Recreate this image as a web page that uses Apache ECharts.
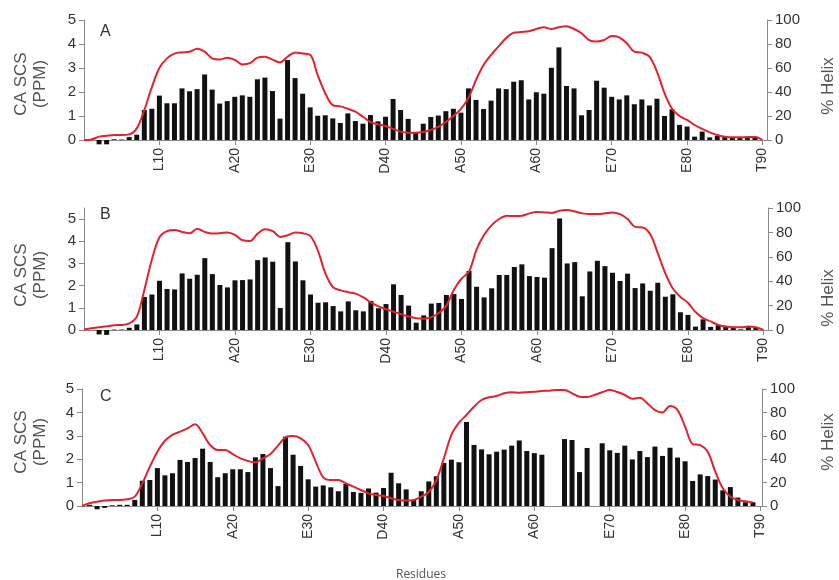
<!DOCTYPE html>
<html><head><meta charset="utf-8">
<script src="https://cdn.jsdelivr.net/npm/echarts@6/dist/echarts.min.js"></script>
<style>html,body{margin:0;padding:0;background:#fff}#c{width:839px;height:580px}</style>
</head><body><div id="c"></div>
<script>
// Residue numbers (categories) and tick labels
var residues = [1,2,3,4,5,6,7,8,9,10,11,12,13,14,15,16,17,18,19,20,21,22,23,24,25,26,27,28,29,30,31,32,33,34,35,36,37,38,39,40,41,42,43,44,45,46,47,48,49,50,51,52,53,54,55,56,57,58,59,60,61,62,63,64,65,66,67,68,69,70,71,72,73,74,75,76,77,78,79,80,81,82,83,84,85,86,87,88,89,90];
var helixResidues = [0].concat(residues);
var tickPositions = [10,20,30,40,50,60,70,80,90];
var tickLabels = ['L10','A20','E30','D40','A50','A60','E70','E80','T90'];

// CA secondary chemical shifts (ppm), residues 1..90
var scsA = [0,-0.18,-0.18,0.03,0.02,0.12,0.22,1.25,1.3,1.85,1.53,1.53,2.15,2.03,2.12,2.73,2.1,1.52,1.62,1.8,1.86,1.8,2.53,2.6,2.04,0.89,3.33,2.58,1.93,1.36,1.01,1.03,0.9,0.71,1.11,0.79,0.68,1.04,0.78,0.97,1.71,1.25,0.88,0.3,0.68,0.96,1.02,1.2,1.3,1.14,2.15,1.67,1.29,1.64,2.15,2.12,2.43,2.49,1.69,1.99,1.93,3.01,3.86,2.25,2.15,1.03,1.25,2.47,2.18,1.8,1.69,1.86,1.49,1.69,1.44,1.72,1.0,1.28,0.63,0.56,0.14,0.35,0.11,0.17,0.14,0.11,0.08,0.08,0.14,0];
var scsB = [0,-0.2,-0.22,0.02,0.02,0.1,0.25,1.49,1.6,2.22,1.85,1.83,2.55,2.31,2.49,3.24,2.52,2.03,1.92,2.24,2.25,2.28,3.15,3.27,3.08,0.99,3.96,3.09,2.24,1.6,1.23,1.25,1.08,0.84,1.29,0.89,0.84,1.31,0.98,1.17,2.06,1.58,1.1,0.33,0.66,1.19,1.22,1.58,1.62,1.4,2.66,1.95,1.47,1.88,2.48,2.48,2.84,2.96,2.43,2.39,2.36,3.69,5.03,3.0,3.06,1.52,2.64,3.12,2.88,2.58,2.21,2.54,1.89,2.1,1.77,2.13,1.5,1.61,0.8,0.68,0.15,0.48,0.14,0.22,0.15,0.12,0.03,0.13,0.13,0];
var scsC = [0.05,-0.14,-0.08,0.03,0.05,0.05,0.26,1.08,1.11,1.62,1.31,1.4,1.97,1.88,2.05,2.45,1.88,1.23,1.4,1.57,1.57,1.45,2.08,2.22,1.62,0.85,2.96,2.19,1.71,1.14,0.83,0.88,0.8,0.63,0.94,0.6,0.56,0.75,0.57,0.77,1.42,0.97,0.71,0.26,0.63,1.05,1.27,1.84,1.98,1.87,3.59,2.61,2.42,2.21,2.32,2.41,2.58,2.8,2.35,2.26,2.19,null,null,2.86,2.82,1.45,2.48,null,2.68,2.38,2.27,2.58,1.99,2.35,2.09,2.54,2.14,2.49,2.07,1.91,1.07,1.35,1.28,1.13,0.67,0.81,0.36,0.16,0.16,0];

// % helix, residues 0..90
var helixA = [0,0.5,2.8,3.6,4.2,4.2,4.7,9.7,25,44,60,68,72,73,73.6,76,73.6,68,67,68.6,66.7,63,64,68.6,69.4,67,64.7,69.4,73,72,71,54,39,29,28,26,23.6,19.4,15,13,11.7,9.2,7,6.1,6.1,6.7,8.3,11,15,20,26,35,50,62.5,71,78,85,89.4,90,90.6,92.5,94,92.5,94,94.7,92.5,89,83.3,82,83.3,86.7,85.6,80.6,73.6,72.8,69.4,57,39,26,20,16.7,12.5,9.2,6.4,4.2,2.8,2.2,2.2,2.5,2.5,0];
var helixB = [0.5,1.4,2.2,3,3.9,4.1,5.5,11,33,58,76,81,82,80.4,79.3,83,80.4,79,79.3,80,78,73.6,73,79,82.6,81,76.3,77.7,80,79.3,77,64.7,46,35,32.5,31,29.8,26.7,22.6,19.3,17,15,13,11,9.6,9.3,10.5,14,20,33,42,48,66,78,86,91,93.6,93.4,93.6,95.6,96.7,96.4,96,97.8,98.3,97.2,95.6,95,95,95.6,96.4,95,91,84.5,84,78.4,63,46.5,34,27,22.4,14.7,9.7,7,4.2,2.8,2.2,2.2,2.8,2.2,0];
var helixC = [0,2.3,3.7,4.6,5.1,5.1,5.7,8,19.4,33.6,46.4,55.8,60.7,63.5,66.4,69.8,62.1,52.1,47.9,47.9,44.4,40.7,38.5,37.3,40.7,44.4,51.6,58.7,59.8,57.8,52.1,37.9,24.5,22.2,22.2,19.4,16.5,13.7,10.8,9.4,8.5,6.6,5.1,4.6,5.1,8,12,22,40.7,60.7,71.2,77.8,84.9,90.6,92.9,94,96.3,97.2,96.9,97.2,97.7,98.3,98.6,99.1,99.1,96.3,93.4,93.2,94.9,97.2,99.1,97.4,94.9,91.7,92.6,87.7,82,80,85.5,82,67.8,53,52.1,46.4,29.3,15.1,8,5.1,4,3.1,null];

var FONT = 'Liberation Sans, Arial, sans-serif';
var LBL = '#333';
var AX = '#8a8a8a';

var grids = [
  {left:84, top:20, width:683, height:120},
  {left:84, top:208, width:684, height:122},
  {left:82, top:389, width:680, height:117}
];
var xMax = [90.6, 90.6, 90.2];
var leftMax = [5, 5.5, 5];
var scsSets = [scsA, scsB, scsC];
var helixSets = [helixA, helixB, helixC];

var xAxes = [], yAxes = [], series = [];
for (var i = 0; i < 3; i++) {
  xAxes.push({
    gridIndex: i, type: 'value', min: 0, max: xMax[i],
    axisLine: {onZero: false, lineStyle: {color: AX, width: 1}},
    axisTick: {show: true, length: 5, lineStyle: {color: AX}, customValues: tickPositions},
    axisLabel: {rotate: 90, margin: 8, color: LBL, fontFamily: FONT, fontSize: 14,
      customValues: tickPositions,
      formatter: function (v) { var k = tickPositions.indexOf(Math.round(v)); return k >= 0 ? tickLabels[k] : ''; }},
    splitLine: {show: false}
  });
  var ticks = [0,1,2,3,4,5];
  yAxes.push({
    gridIndex: i, type: 'value', position: 'left', min: 0, max: leftMax[i], interval: 1,
    axisLine: {show: true, onZero: false, lineStyle: {color: AX, width: 1}},
    axisTick: {show: true, length: 5, lineStyle: {color: AX}, customValues: ticks},
    axisLabel: {color: LBL, fontFamily: FONT, fontSize: 15, margin: 8, customValues: ticks},
    splitLine: {show: false}
  });
  yAxes.push({
    gridIndex: i, type: 'value', position: 'right', min: 0, max: 100, interval: 20,
    axisLine: {show: true, onZero: false, lineStyle: {color: AX, width: 1}},
    axisTick: {show: true, length: 5, lineStyle: {color: AX}},
    axisLabel: {color: LBL, fontFamily: FONT, fontSize: 15, margin: 8},
    splitLine: {show: false}
  });
  (function (idx) {
    series.push({
      type: 'bar', xAxisIndex: idx, yAxisIndex: idx * 2, barWidth: 5, clip: false,
      itemStyle: {color: '#111'},
      data: residues.map(function (r, k) { return [r, scsSets[idx][k]]; }),
      z: 2
    });
    series.push({
      type: 'line', xAxisIndex: idx, yAxisIndex: idx * 2 + 1, smooth: 0.35, symbol: 'none',
      lineStyle: {color: '#e3232b', width: 2}, itemStyle: {color: '#e3232b'},
      data: helixResidues.map(function (r, k) { return [r, helixSets[idx][k]]; }),
      z: 3
    });
  })(i);
}

var graphics = [];
var letters = ['A','B','C'];
var letterY = [33, 216, 398];
var leftNameY = [84, 275, 442];
var rightNameY = [86, 298, 442];
for (var j = 0; j < 3; j++) {
  graphics.push({type:'text', left:100, top:letterY[j]-9, style:{text:letters[j], fill:'#333', font:'16px ' + FONT}});
  graphics.push({type:'text', x:31, y:leftNameY[j], rotation:Math.PI/2,
    style:{text:'CA SCS\n(PPM)', fill:'#555', font:'17px ' + FONT, textAlign:'center', textVerticalAlign:'middle', lineHeight:19}});
  graphics.push({type:'text', x:828, y:rightNameY[j], rotation:Math.PI/2,
    style:{text:'% Helix', fill:'#555', font:'17px ' + FONT, textAlign:'center', textVerticalAlign:'middle'}});
}
graphics.push({type:'text', x:421, y:575, style:{text:'Residues', fill:'#555', font:'12px "Open Sans", sans-serif', textAlign:'center', textVerticalAlign:'middle'}});

var chart = echarts.init(document.getElementById('c'), null, {renderer:'canvas'});
chart.setOption({
  animation: false,
  backgroundColor: '#fff',
  grid: grids,
  xAxis: xAxes,
  yAxis: yAxes,
  series: series,
  graphic: graphics
});
</script>
</body></html>
